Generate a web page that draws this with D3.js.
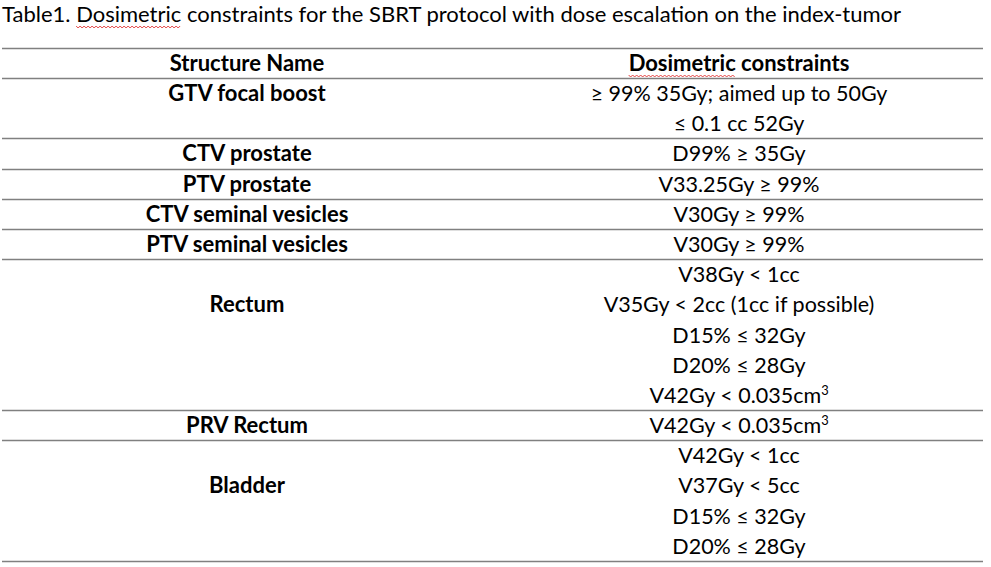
<!DOCTYPE html>
<html>
<head>
<meta charset="utf-8">
<script src="https://cdn.jsdelivr.net/npm/d3@7"></script>
<style>
  body { margin: 0; background: #fff; }
  svg text { font-family: Lato, "Open Sans", sans-serif; fill: #000; }
</style>
</head>
<body>
<script>
var width = 991, height = 567;

var title = "Table1. Dosimetric constraints for the SBRT protocol with dose escalation on the index-tumor";
var headers = ["Structure Name", "Dosimetric constraints"];
var structures = ["GTV focal boost", "CTV prostate", "PTV prostate", "CTV seminal vesicles",
                  "PTV seminal vesicles", "Rectum", "PRV Rectum", "Bladder"];
// which line of the row the structure name sits on
var labelLine = [0, 0, 0, 0, 0, 1, 0, 1];
var constraints = [
  ["\u2265 99% 35Gy; aimed up to 50Gy", "\u2264 0.1 cc 52Gy"],
  ["D99% \u2265 35Gy"],
  ["V33.25Gy \u2265 99%"],
  ["V30Gy \u2265 99%"],
  ["V30Gy \u2265 99%"],
  ["V38Gy < 1cc", "V35Gy < 2cc (1cc if possible)", "D15% \u2264 32Gy", "D20% \u2264 28Gy", "V42Gy < 0.035cm^3"],
  ["V42Gy < 0.035cm^3"],
  ["V42Gy < 1cc", "V37Gy < 5cc", "D15% \u2264 32Gy", "D20% \u2264 28Gy"]
];

var titleSize = 22, boldSize = 22, fontSize = 21.5;
var svg = d3.select("body").append("svg")
  .attr("width", width)
  .attr("height", height);

var totalLines = d3.sum(constraints, function(c){ return c.length; });
var y = d3.scaleLinear().domain([0, totalLines]).range([78, 561]);
var x = d3.scaleOrdinal().domain(headers).range([247, 739]);
var left = 2, right = 983, headTop = 48;
var baseOff = 23;

// squiggly spell-check underline
function squiggle(textNode, start, n, baseline) {
  var x0 = textNode.getStartPositionOfChar(start).x;
  var x1 = textNode.getEndPositionOfChar(start + n - 1).x;
  var pts = [];
  for (var xx = x0, k = 0; xx <= x1; xx += 2, k++) {
    pts.push([xx, baseline + 4 + (k % 2 ? 2 : 0)]);
  }
  svg.append("path")
    .attr("d", d3.line()(pts))
    .attr("fill", "none")
    .attr("stroke", "#e03030")
    .attr("stroke-width", 0.9);
}

// title
var t = svg.append("text")
  .attr("x", 2)
  .attr("y", 22)
  .attr("font-size", titleSize + "px")
  .text(title);
squiggle(t.node(), 8, 10, 22);

// horizontal rules
var rules = [headTop, y(0)];
var acc = 0;
constraints.forEach(function(c){ acc += c.length; rules.push(y(acc)); });
svg.selectAll("line.rule")
  .data(rules)
  .enter()
  .append("line")
  .attr("class", "rule")
  .attr("x1", left)
  .attr("x2", right)
  .attr("y1", function(d){ return Math.round(d) + 0.5; })
  .attr("y2", function(d){ return Math.round(d) + 0.5; })
  .attr("stroke", "#808080")
  .attr("stroke-width", 1.3);

// header
svg.selectAll("text.head")
  .data(headers)
  .enter()
  .append("text")
  .attr("class", "head")
  .attr("x", function(d){ return x(d); })
  .attr("y", headTop + baseOff)
  .attr("text-anchor", "middle")
  .attr("font-size", boldSize + "px")
  .attr("font-weight", "700")
  .text(function(d){ return d; });
squiggle(svg.selectAll("text.head").nodes()[1], 0, 10, headTop + baseOff);

// body rows
var start = 0;
structures.forEach(function(s, i) {
  svg.append("text")
    .attr("x", x(headers[0]))
    .attr("y", y(start + labelLine[i]) + baseOff)
    .attr("text-anchor", "middle")
    .attr("font-size", boldSize + "px")
    .attr("font-weight", "700")
    .text(s);

  constraints[i].forEach(function(c, j) {
    var parts = c.split("^");
    var tx = svg.append("text")
      .attr("x", x(headers[1]))
      .attr("y", y(start + j) + baseOff)
      .attr("text-anchor", "middle")
      .attr("font-size", fontSize + "px");
    tx.append("tspan").text(parts[0]);
    if (parts[1]) {
      tx.append("tspan")
        .attr("font-size", (fontSize * 0.6) + "px")
        .attr("dy", -8)
        .text(parts[1]);
    }
  });
  start += constraints[i].length;
});
</script>
</body>
</html>
